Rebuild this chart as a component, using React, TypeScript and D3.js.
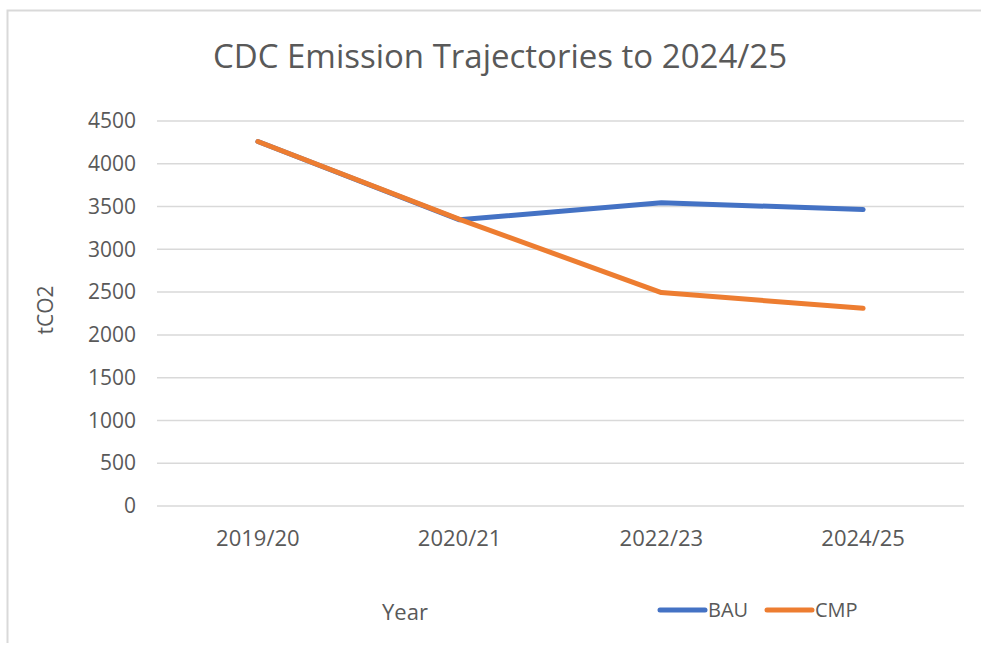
import React, { useEffect, useRef } from 'react';
import * as d3 from 'd3';

const years = ['2019/20', '2020/21', '2022/23', '2024/25'];
const bau = [4260, 3345, 3545, 3465];
const cmp = [4260, 3350, 2495, 2310];
const yTicks = [0, 500, 1000, 1500, 2000, 2500, 3000, 3500, 4000, 4500];

const seriesList = [
  { name: 'BAU', values: bau, color: '#4472C4' },
  { name: 'CMP', values: cmp, color: '#ED7D31' },
];

const textColor = '#595959';
const font = '"Open Sans", sans-serif';

function App() {
  const svgRef = useRef() as React.RefObject<SVGSVGElement>;

  useEffect(() => {
    const width = 981;
    const height = 645;
    const svg = d3.select(svgRef.current)
      .attr('width', width)
      .attr('height', height)
      .style('background', '#fff');
    svg.selectAll('*').remove();

    // chart area frame (only top and left edges visible)
    svg.append('path')
      .attr('d', 'M7.5,643V10.5H981')
      .attr('fill', 'none')
      .attr('stroke', '#D9D9D9')
      .attr('stroke-width', 2);

    // title
    svg.append('text')
      .attr('x', 500)
      .attr('y', 68)
      .attr('text-anchor', 'middle')
      .attr('font-family', font)
      .attr('font-size', 33)
      .attr('fill', textColor)
      .text('CDC Emission Trajectories to 2024/25');

    const x = d3.scaleBand().domain(years).range([157, 964]);
    const y = d3.scaleLinear().domain([0, 4500]).range([506, 121]);

    // gridlines
    svg.append('g')
      .selectAll('line')
      .data(yTicks)
      .join('line')
      .attr('x1', 157)
      .attr('x2', 964)
      .attr('y1', d => y(d))
      .attr('y2', d => y(d))
      .attr('stroke', '#D9D9D9')
      .attr('stroke-width', 1.5);

    // y axis labels
    const yAxis = svg.append('g')
      .attr('transform', 'translate(136,0)')
      .call(d3.axisLeft(y).tickValues(yTicks).tickFormat(d3.format('d')).tickSize(0).tickPadding(0));
    yAxis.select('.domain').remove();
    yAxis.selectAll('text')
      .attr('font-family', font)
      .attr('font-size', 21)
      .attr('fill', textColor);

    // x axis labels
    const xAxis = svg.append('g')
      .attr('transform', 'translate(0,506)')
      .call(d3.axisBottom(x).tickSize(0).tickPadding(24));
    xAxis.select('.domain').remove();
    xAxis.selectAll('text')
      .attr('font-family', font)
      .attr('font-size', 22)
      .attr('fill', textColor);

    // axis titles
    svg.append('text')
      .attr('transform', 'translate(53,310) rotate(-90)')
      .attr('text-anchor', 'middle')
      .attr('font-family', font)
      .attr('font-size', 21)
      .attr('fill', textColor)
      .text('tCO2');

    svg.append('text')
      .attr('x', 405)
      .attr('y', 620)
      .attr('text-anchor', 'middle')
      .attr('font-family', font)
      .attr('font-size', 22)
      .attr('fill', textColor)
      .text('Year');

    // lines
    const line = d3.line<number>()
      .x((d, i) => (x(years[i]) as number) + x.bandwidth() / 2)
      .y(d => y(d));

    svg.append('g')
      .selectAll('path')
      .data(seriesList)
      .join('path')
      .attr('fill', 'none')
      .attr('stroke', d => d.color)
      .attr('stroke-width', 5)
      .attr('stroke-linecap', 'round')
      .attr('stroke-linejoin', 'round')
      .attr('d', d => line(d.values));

    // legend
    const legend = svg.append('g')
      .selectAll('g')
      .data(seriesList)
      .join('g')
      .attr('transform', (d, i) => `translate(${660 + i * 107},610)`);
    legend.append('line')
      .attr('x1', 0)
      .attr('x2', 45)
      .attr('stroke', d => d.color)
      .attr('stroke-width', 5)
      .attr('stroke-linecap', 'round');
    legend.append('text')
      .attr('x', 48)
      .attr('y', 7)
      .attr('font-family', font)
      .attr('font-size', 20)
      .attr('fill', textColor)
      .text(d => d.name);
  }, []);

  return (
    <div>
      <svg ref={svgRef} style={{ position: 'absolute', left: 0, top: 0 }}></svg>
    </div>
  );
}

export default App;
